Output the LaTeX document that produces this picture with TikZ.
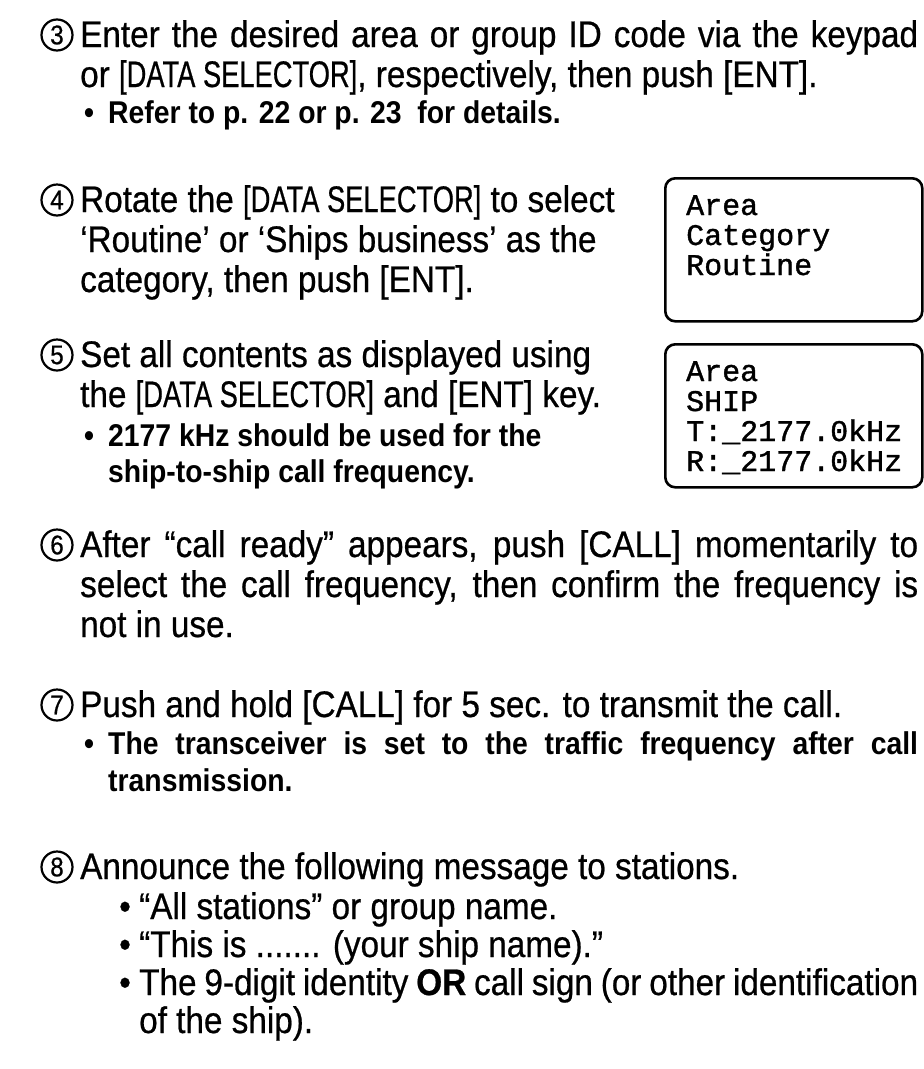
\documentclass[tikz,border=0pt]{standalone}
\usepackage{fontspec}
\usepackage{graphicx}
\setmainfont{Liberation Sans}[FakeStretch=0.9, FakeBold=0.6]
\newfontfamily\notefont{Liberation Sans}[FakeStretch=0.9]
\newfontfamily\lcdfont{Liberation Mono}[FakeBold=1.2]
% key names on the front panel are set narrower than the running text
\newcommand{\panelkey}[1]{\scalebox{0.82}[1]{#1}}

\tikzset{
  body/.style={anchor=base west, inner sep=0pt, font=\fontsize{37}{40}\selectfont},
  note/.style={anchor=base west, inner sep=0pt, font=\notefont\bfseries\fontsize{31.5}{34}\selectfont},
  stepnum/.style={circle, draw, line width=2.2pt, minimum size=31pt, inner sep=0pt,
                  font=\fontsize{27}{27}\selectfont},
  lcd/.style={draw, line width=2.6pt, rounded corners=10pt, anchor=north west,
              minimum width=257pt, minimum height=143pt, inner sep=0pt},
  lcdtext/.style={anchor=base west, inner sep=0pt, font=\lcdfont\fontsize{30}{30}\selectfont}
}

\begin{document}
\begin{tikzpicture}[x=1pt, y=-1pt]
\useasboundingbox (0,0) rectangle (924,1069);

% Step 3
\node[stepnum] (n3) at (57,35) {3};
\node[body] (s3a) at (80,47) {\makebox[838pt][s]{Enter the desired area or group ID code via the keypad}};
\node[body] (s3b) at (80,87) {or \panelkey{[DATA SELECTOR]}, respectively, then push [ENT].};
\node[note] (b3) at (84,123) {•};
\node[note] (s3c) at (108,123) {Refer to p. 22 or p. 23\ \ for details.};

% Step 4
\node[stepnum] (n4) at (57,200) {4};
\node[body] (s4a) at (80,212) {Rotate the \panelkey{[DATA SELECTOR]} to select};
\node[body] (s4b) at (80,252) {‘Routine’ or ‘Ships business’ as the};
\node[body] (s4c) at (80,292) {category, then push [ENT].};

\node[lcd] (lcd1) at (664,177) {};
\node[lcdtext] (l1a) at (686,215) {Area};
\node[lcdtext] (l1b) at (686,245) {Category};
\node[lcdtext] (l1c) at (686,275) {Routine};

% Step 5
\node[stepnum] (n5) at (57,355) {5};
\node[body] (s5a) at (80,367) {Set all contents as displayed using};
\node[body] (s5b) at (80,407) {the \panelkey{[DATA SELECTOR]} and [ENT] key.};
\node[note] (b5) at (84,446) {•};
\node[note] (s5c) at (108,446) {2177 kHz should be used for the};
\node[note] (s5d) at (108,482) {ship-to-ship call frequency.};

\node[lcd] (lcd2) at (664,343) {};
\node[lcdtext] (l2a) at (686,381) {Area};
\node[lcdtext] (l2b) at (686,411) {SHIP};
\node[lcdtext] (l2c) at (686,441) {T:\_2177.0kHz};
\node[lcdtext] (l2d) at (686,471) {R:\_2177.0kHz};

% Step 6
\node[stepnum] (n6) at (57,545) {6};
\node[body] (s6a) at (80,557) {\makebox[838pt][s]{After “call ready” appears, push [CALL] momentarily to}};
\node[body] (s6b) at (80,597) {\makebox[838pt][s]{select the call frequency, then confirm the frequency is}};
\node[body] (s6c) at (80,637) {not in use.};

% Step 7
\node[stepnum] (n7) at (57,705) {7};
\node[body] (s7a) at (80,717) {Push and hold [CALL] for 5 sec. to transmit the call.};
\node[note] (b7) at (84,754) {•};
\node[note] (s7b) at (108,754) {\makebox[810pt][s]{The transceiver is set to the traffic frequency after call}};
\node[note] (s7c) at (108,791) {transmission.};

% Step 8
\node[stepnum] (n8) at (57,867) {8};
\node[body] (s8a) at (80,879) {Announce the following message to stations.};
\node[body] (b8a) at (119,919) {•};
\node[body] (s8b) at (139,919) {“All stations” or group name.};
\node[body] (b8b) at (119,957) {•};
\node[body] (s8c) at (139,957) {“This is ....... (your ship name).”};
\node[body] (b8c) at (119,995) {•};
\node[body] (s8d) at (139,995) {\makebox[779pt][s]{The 9-digit identity \textbf{OR} call sign (or other identification}};
\node[body] (s8e) at (139,1033) {of the ship).};
\end{tikzpicture}
\end{document}
